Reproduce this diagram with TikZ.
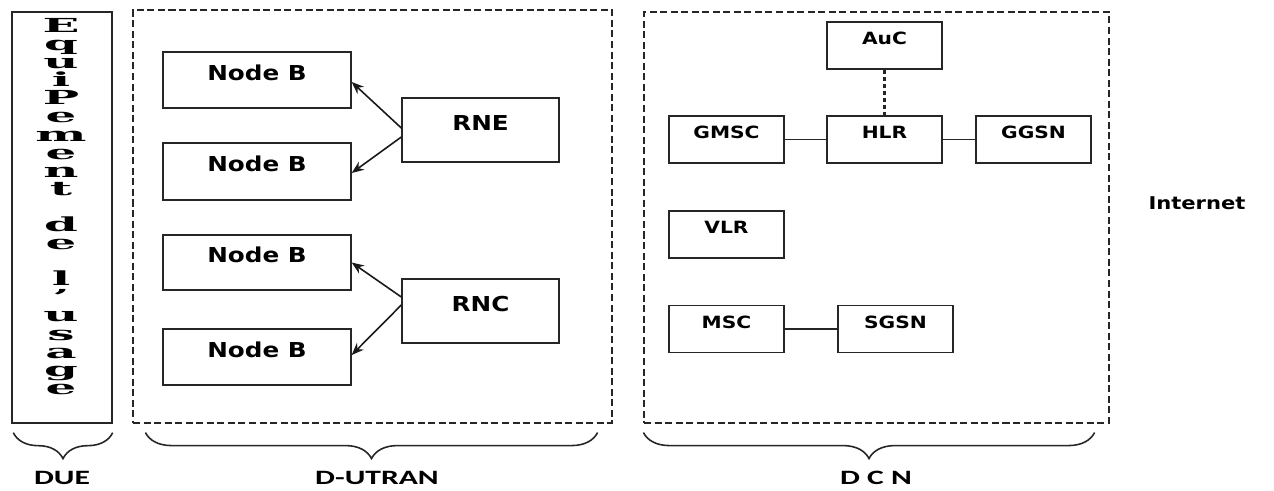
\documentclass[tikz,border=0pt]{standalone}
\usepackage{fontspec}
\usepackage{tikz}
\usetikzlibrary{calc}
\usetikzlibrary{arrows.meta}
\usetikzlibrary{decorations.pathreplacing}
\newfontfamily\boxfont[FakeStretch=1.2]{DejaVu Sans}
\newfontfamily\bracefont[FakeStretch=1.55]{Carlito}
\newfontfamily\duefont[FakeStretch=2.5]{DejaVu Serif}
\newcommand\duesetup{\duefont\bfseries\fontsize{11}{10.3}\selectfont\lineskiplimit=-20pt\relax}
\tikzset{
  unit/.style={draw=black!85, line width=0.8pt, inner sep=0pt},
  ranunit/.style={unit, font=\boxfont\bfseries\fontsize{11.7}{14}\selectfont, text height=9pt, text depth=9pt},
  coreunit/.style={unit, minimum width=2.3cm, minimum height=0.94cm, font=\boxfont\bfseries\fontsize{9.6}{12}\selectfont, text height=7pt, text depth=8pt},
  zonebox/.style={draw=black!85, line width=0.7pt, dash pattern=on 4pt off 2pt, inner sep=0pt},
  link/.style={draw=black!85, line width=0.8pt},
  feed/.style={draw=black!90, line width=0.9pt, -{Stealth[length=7pt,width=5.5pt]}},
  brc/.style={draw=black!85, line width=0.9pt, decorate, decoration={brace, mirror, amplitude=0.52cm}},
  brlab/.style={font=\bracefont\bfseries\fontsize{11.6}{14}\selectfont}
}
\begin{document}
\begin{tikzpicture}[x=0.02cm, y=-0.02cm]
\useasboundingbox (0,0) rectangle (1274,490);
% the three domains
\node[unit, minimum width=2cm, minimum height=8.22cm] (due) at (62,217.5) {};
\node[zonebox, minimum width=9.58cm, minimum height=8.26cm] (utran) at (372.5,216.5) {};
\node[zonebox, minimum width=9.3cm, minimum height=8.22cm] (dcn) at (876.5,217.5) {};
\node[anchor=north, align=center, inner sep=0pt, font=\duesetup]
  (equip) at (61,18) {E\\q\\u\\i\\P\\e\\m\\e\\n\\t\\[10.3pt]d\\e\\[10.3pt]l\\’\\u\\s\\a\\g\\e};
% radio access part
\node[ranunit, minimum width=3.76cm, minimum height=1.12cm] (nodeb1) at (257,80) {Node B};
\node[ranunit, minimum width=3.76cm, minimum height=1.14cm] (nodeb2) at (257,171.5) {Node B};
\node[ranunit, minimum width=3.76cm, minimum height=1.10cm] (nodeb3) at (257,262.5) {Node B};
\node[ranunit, minimum width=3.76cm, minimum height=1.12cm] (nodeb4) at (257,357) {Node B};
\node[ranunit, minimum width=3.14cm, minimum height=1.28cm] (rne) at (480.5,130) {RNE};
\node[ranunit, minimum width=3.14cm, minimum height=1.28cm] (rnc) at (480.5,311) {RNC};
\draw[feed] ($(rne.west)+(0,-2)$) -- ($(nodeb1.east)+(0,2)$);
\draw[feed] ($(rne.west)+(0,7)$) -- ($(nodeb2.east)+(0,1.5)$);
\draw[feed] ($(rnc.west)+(0,-14)$) -- (nodeb3.east);
\draw[feed] ($(rnc.west)+(0,-6)$) -- ($(nodeb4.east)+(0,-2)$);
% core network
\node[coreunit] (auc) at (884.5,45.5) {AuC};
\node[coreunit] (hlr) at (884.5,139.5) {HLR};
\node[coreunit] (gmsc) at (726.5,139.5) {GMSC};
\node[coreunit] (ggsn) at (1033.5,139.5) {GGSN};
\node[coreunit] (vlr) at (726.5,234.5) {VLR};
\node[coreunit] (msc) at (726.5,329) {MSC};
\node[coreunit] (sgsn) at (895.5,329) {SGSN};
\draw[link] (gmsc) -- (hlr);
\draw[link] (hlr) -- (ggsn);
\draw[link] (msc) -- (sgsn);
\draw[black!85, line width=1.6pt, dash pattern=on 2.5pt off 1.5pt] (auc) -- (hlr);
\node[font=\boxfont\bfseries\fontsize{10}{12}\selectfont] (inet) at (1197,203) {Internet};
% braces
\draw[brc] ($(due.south west)+(2,9)$) -- ($(due.south east)+(0,9)$);
\draw[brc] ($(utran.south west)+(13,9)$) -- ($(utran.south east)+(-15,9)$);
\draw[brc] ($(dcn.south west)+(0,9)$) -- ($(dcn.south east)+(-15,9)$);
\node[brlab] (duelab) at (62,478) {DUE};
\node[brlab] (utranlab) at (377,478) {D-UTRAN};
\node[brlab] (dcnlab) at (876,478) {D C N};
\end{tikzpicture}
\end{document}
